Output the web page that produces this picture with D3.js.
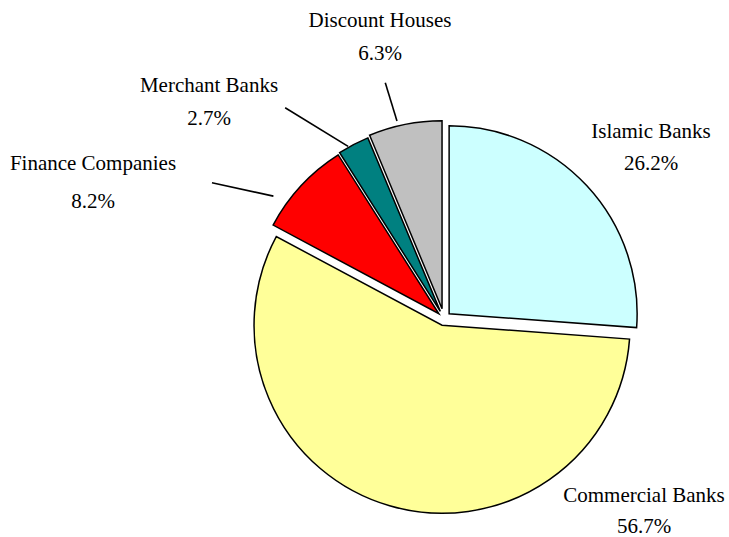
<!DOCTYPE html>
<html><head><meta charset="utf-8">
<script src="https://cdn.jsdelivr.net/npm/d3@7"></script>
<style>body{margin:0;background:#fff}</style>
</head><body><svg id="c" width="729" height="537"></svg>
<script>
// ---- data ----
const categories = ["Islamic Banks", "Commercial Banks", "Finance Companies", "Merchant Banks", "Discount Houses"];
const shares = [26.2, 56.7, 8.2, 2.7, 6.3];
const valueLabels = ["26.2%", "56.7%", "8.2%", "2.7%", "6.3%"];
const colors = ["#ccffff", "#ffff99", "#ff0000", "#008080", "#c0c0c0"];

// ---- layout ----
const W = 729, H = 537;
const cx = 444, cy = 318.5, R = 188;
const explode = [7, 7, 7, 8, 10];
// label anchors: [centerX, nameBaseline, valueBaseline]
const labelPos = [[651, 138, 170], [644, 502, 533], [93, 170, 208], [209, 92, 125], [380, 27, 60]];
// leader lines in polar form around the exploded slice centre: [innerDeg, innerR, outerDeg, outerR]
const leaders = [null, null, [305.4, 203, 300, 262], [330.8, 189, 322.7, 256], [346.5, 193, 345.9, 233]];

const svg = d3.select("#c");
const arcs = d3.pie().sort(null).value(d => d)(shares);
const arc = d3.arc().innerRadius(0).outerRadius(R);
const root = svg.append("g").attr("transform", `translate(${cx},${cy})`);

const off = (d, i) => {
  const m = (d.startAngle + d.endAngle) / 2;
  return [explode[i] * Math.sin(m), -explode[i] * Math.cos(m)];
};
const polar = (deg, r) => {
  const a = deg * Math.PI / 180;
  return [r * Math.sin(a), -r * Math.cos(a)];
};

const slices = root.selectAll("g.slice").data(arcs).enter().append("g")
  .attr("class", "slice")
  .attr("transform", (d, i) => { const o = off(d, i); return `translate(${o[0]},${o[1]})`; });

slices.append("path")
  .attr("d", arc)
  .attr("fill", (d, i) => colors[i])
  .attr("stroke", "#000")
  .attr("stroke-width", 1.5)
  .attr("stroke-linejoin", "miter");

slices.each(function(d, i) {
  const L = leaders[i];
  if (!L) return;
  const p1 = polar(L[0], L[1]), p2 = polar(L[2], L[3]);
  d3.select(this).append("line")
    .attr("x1", p1[0]).attr("y1", p1[1]).attr("x2", p2[0]).attr("y2", p2[1])
    .attr("stroke", "#000").attr("stroke-width", 1.6);
});

const labels = svg.append("g")
  .attr("font-family", "'Liberation Serif', 'Times New Roman', serif")
  .attr("font-size", 21)
  .attr("fill", "#000")
  .attr("text-anchor", "middle");

categories.forEach((c, i) => {
  const p = labelPos[i];
  labels.append("text").attr("x", p[0]).attr("y", p[1]).text(c);
  labels.append("text").attr("x", p[0]).attr("y", p[2]).text(valueLabels[i]);
});
</script>
</body></html>
